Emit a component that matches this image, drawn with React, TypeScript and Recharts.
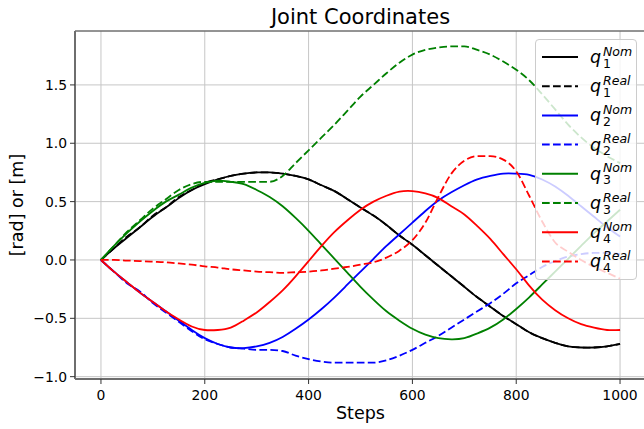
import React from 'react';
import { LineChart, Line, XAxis, YAxis, CartesianGrid, Legend, ReferenceLine } from 'recharts';

// Simulation steps (sampled every 25 steps)
const steps = [
  0, 25, 50, 75, 100, 125, 150, 175, 200, 225, 250, 275, 300, 325, 350, 375, 400, 425, 450, 475, 500,
  525, 550, 575, 600, 625, 650, 675, 700, 725, 750, 775, 800, 825, 850, 875, 900, 925, 950, 975, 1000,
];

// Joint 1
const q1Nom = [
  0, 0.10, 0.19, 0.28, 0.37, 0.45, 0.53, 0.60, 0.65, 0.69, 0.72, 0.74, 0.75, 0.75, 0.74, 0.72, 0.69, 0.64, 0.59, 0.52, 0.45,
  0.38, 0.30, 0.21, 0.13, 0.04, -0.05, -0.14, -0.23, -0.32, -0.40, -0.48, -0.55, -0.62, -0.67, -0.71, -0.74, -0.75, -0.75, -0.74, -0.72,
];
const q1Real = [
  0, 0.10, 0.20, 0.28, 0.38, 0.45, 0.54, 0.60, 0.66, 0.69, 0.72, 0.74, 0.75, 0.75, 0.74, 0.72, 0.69, 0.64, 0.59, 0.52, 0.45,
  0.38, 0.30, 0.21, 0.13, 0.04, -0.05, -0.14, -0.23, -0.32, -0.40, -0.48, -0.55, -0.62, -0.67, -0.71, -0.74, -0.75, -0.75, -0.74, -0.72,
];

// Joint 2
const q2Nom = [
  0, -0.10, -0.19, -0.28, -0.36, -0.44, -0.52, -0.60, -0.67, -0.72, -0.75, -0.755, -0.74, -0.71, -0.66, -0.59, -0.51, -0.42, -0.32, -0.21, -0.10,
  0.01, 0.12, 0.22, 0.32, 0.42, 0.51, 0.58, 0.64, 0.69, 0.72, 0.74, 0.74, 0.73, 0.69, 0.63, 0.55, 0.46, 0.37, 0.28, 0.20,
];
const q2Real = [
  0, -0.10, -0.20, -0.27, -0.37, -0.45, -0.53, -0.61, -0.68, -0.72, -0.75, -0.76, -0.77, -0.77, -0.78, -0.82, -0.85, -0.87, -0.88, -0.88, -0.88,
  -0.88, -0.86, -0.82, -0.77, -0.71, -0.65, -0.58, -0.51, -0.44, -0.37, -0.29, -0.20, -0.13, -0.06, -0.01, 0.03, 0.05, 0.06, 0.06, 0.05,
];

// Joint 3
const q3Nom = [
  0, 0.12, 0.23, 0.33, 0.42, 0.50, 0.56, 0.62, 0.66, 0.68, 0.67, 0.65, 0.60, 0.54, 0.46, 0.36, 0.25, 0.13, 0.01, -0.11, -0.23,
  -0.34, -0.44, -0.52, -0.59, -0.64, -0.67, -0.68, -0.67, -0.63, -0.58, -0.51, -0.42, -0.32, -0.21, -0.10, 0.01, 0.12, 0.23, 0.33, 0.43,
];
const q3Real = [
  0, 0.12, 0.24, 0.34, 0.44, 0.52, 0.60, 0.65, 0.67, 0.67, 0.67, 0.67, 0.67, 0.67, 0.72, 0.83, 0.94, 1.05, 1.16, 1.28, 1.40,
  1.50, 1.60, 1.69, 1.76, 1.80, 1.82, 1.83, 1.83, 1.80, 1.76, 1.70, 1.63, 1.54, 1.42, 1.29, 1.16, 1.05, 0.96, 0.89, 0.83,
];

// Joint 4
const q4Nom = [
  0, -0.10, -0.19, -0.28, -0.36, -0.44, -0.51, -0.57, -0.60, -0.60, -0.58, -0.52, -0.45, -0.36, -0.26, -0.14, -0.01, 0.12, 0.24, 0.34, 0.43,
  0.50, 0.55, 0.585, 0.59, 0.57, 0.53, 0.46, 0.39, 0.29, 0.18, 0.05, -0.08, -0.22, -0.34, -0.43, -0.50, -0.55, -0.58, -0.60, -0.60,
];
const q4Real = [
  0, 0.0, -0.005, -0.01, -0.015, -0.02, -0.03, -0.04, -0.055, -0.065, -0.08, -0.09, -0.10, -0.105, -0.11, -0.105, -0.10, -0.09, -0.075, -0.06, -0.04,
  -0.02, 0.02, 0.08, 0.17, 0.32, 0.54, 0.74, 0.85, 0.89, 0.89, 0.86, 0.76, 0.55, 0.33, 0.15, 0.07, 0.0, -0.06, -0.11, -0.16,
];

const xTicks = [0, 200, 400, 600, 800, 1000];
const yTicks = [-1.0, -0.5, 0.0, 0.5, 1.0, 1.5];

type Series = {
  key: string;
  joint: string;
  kind: string;
  color: string;
  dashed: boolean;
  curve: 'natural' | 'monotone';
  values: number[];
};

const series: Series[] = [
  { key: 'q1Nom', joint: '1', kind: 'Nom', color: '#000000', dashed: false, curve: 'natural', values: q1Nom },
  { key: 'q1Real', joint: '1', kind: 'Real', color: '#000000', dashed: true, curve: 'natural', values: q1Real },
  { key: 'q2Nom', joint: '2', kind: 'Nom', color: '#0000ff', dashed: false, curve: 'natural', values: q2Nom },
  { key: 'q2Real', joint: '2', kind: 'Real', color: '#0000ff', dashed: true, curve: 'monotone', values: q2Real },
  { key: 'q3Nom', joint: '3', kind: 'Nom', color: '#008000', dashed: false, curve: 'natural', values: q3Nom },
  { key: 'q3Real', joint: '3', kind: 'Real', color: '#008000', dashed: true, curve: 'monotone', values: q3Real },
  { key: 'q4Nom', joint: '4', kind: 'Nom', color: '#ff0000', dashed: false, curve: 'natural', values: q4Nom },
  { key: 'q4Real', joint: '4', kind: 'Real', color: '#ff0000', dashed: true, curve: 'monotone', values: q4Real },
];

const rows = steps.map((s, i) => {
  const row: Record<string, number> = { step: s };
  series.forEach((sr) => {
    row[sr.key] = sr.values[i];
  });
  return row;
});

const FONT = '"DejaVu Sans", sans-serif';
const DASH = '7.7 3.3';
const Y_MIN = -1.02;
const Y_MAX = 1.962;

const fmtY = (v: number) => (v < 0 ? '\u2212' : '') + Math.abs(v).toFixed(1);

const LegendBox = () => (
  <svg width={104} height={243} style={{ display: 'block' }}>
    <rect x={1.5} y={1.5} width={101} height={240} rx={3.5} ry={3.5} fill="#ffffff" fillOpacity={0.8} stroke="#cccccc" strokeWidth={1} />
    {series.map((sr, i) => {
      const y = 19 + i * 29.2;
      return (
        <g key={sr.key}>
          <line x1={8} x2={44} y1={y} y2={y} stroke={sr.color} strokeWidth={2} strokeDasharray={sr.dashed ? DASH : undefined} />
          <text x={56} y={y + 6} fontFamily={FONT} fontStyle="italic" fontSize={17.5} fill="#000">q</text>
          <text x={69} y={y - 1.5} fontFamily={FONT} fontStyle="italic" fontSize={12.5} fill="#000">{sr.kind}</text>
          <text x={69} y={y + 10.5} fontFamily={FONT} fontSize={12.5} fill="#000">{sr.joint}</text>
        </g>
      );
    })}
  </svg>
);

export default function App() {
  return (
    <div style={{ position: 'absolute', left: 0, top: 0, width: 644, height: 429, overflow: 'hidden', background: '#ffffff' }}>
      <LineChart width={650} height={429} data={rows} margin={{ top: 31, right: 4, bottom: 0, left: 0 }}>
        <CartesianGrid stroke="#c6c6c6" strokeWidth={1} />
        <XAxis
          dataKey="step"
          type="number"
          domain={[-50, 1050]}
          ticks={xTicks}
          allowDataOverflow
          height={50}
          tickSize={5}
          tickMargin={6}
          axisLine={{ stroke: '#6e6e6e', strokeWidth: 2 }}
          tickLine={{ stroke: '#333333' }}
          tick={{ fill: '#000000', fontSize: 13.9, fontFamily: FONT }}
        />
        <YAxis
          type="number"
          domain={[Y_MIN, Y_MAX]}
          ticks={yTicks}
          allowDataOverflow
          width={75}
          tickSize={5}
          tickMargin={3}
          tickFormatter={fmtY}
          axisLine={{ stroke: '#6e6e6e', strokeWidth: 2 }}
          tickLine={{ stroke: '#333333' }}
          tick={{ fill: '#000000', fontSize: 13.9, fontFamily: FONT }}
        />
        <ReferenceLine y={Y_MAX} stroke="#444444" strokeWidth={1} />
        {series.map((sr) => (
          <Line
            key={sr.key}
            dataKey={sr.key}
            name={sr.key}
            type={sr.curve}
            stroke={sr.color}
            strokeWidth={1.8}
            strokeDasharray={sr.dashed ? DASH : undefined}
            dot={false}
            activeDot={false}
            isAnimationActive={false}
          />
        ))}
        <Legend
          layout="vertical"
          align="center"
          verticalAlign="middle"
          width={104}
          height={243}
          wrapperStyle={{ left: 534, top: 38, width: 104, height: 243 }}
          content={() => <LegendBox />}
        />
      </LineChart>
      <svg width={644} height={429} style={{ position: 'absolute', left: 0, top: 0, pointerEvents: 'none' }}>
        <text x={360.5} y={24} textAnchor="middle" fontFamily={FONT} fontSize={21} fill="#000">Joint Coordinates</text>
        <text x={360.5} y={419} textAnchor="middle" fontFamily={FONT} fontSize={17.5} fill="#000">Steps</text>
        <text x={23} y={205} textAnchor="middle" fontFamily={FONT} fontSize={17.5} fill="#000" transform="rotate(-90 23 205)">[rad] or [m]</text>
      </svg>
    </div>
  );
}
